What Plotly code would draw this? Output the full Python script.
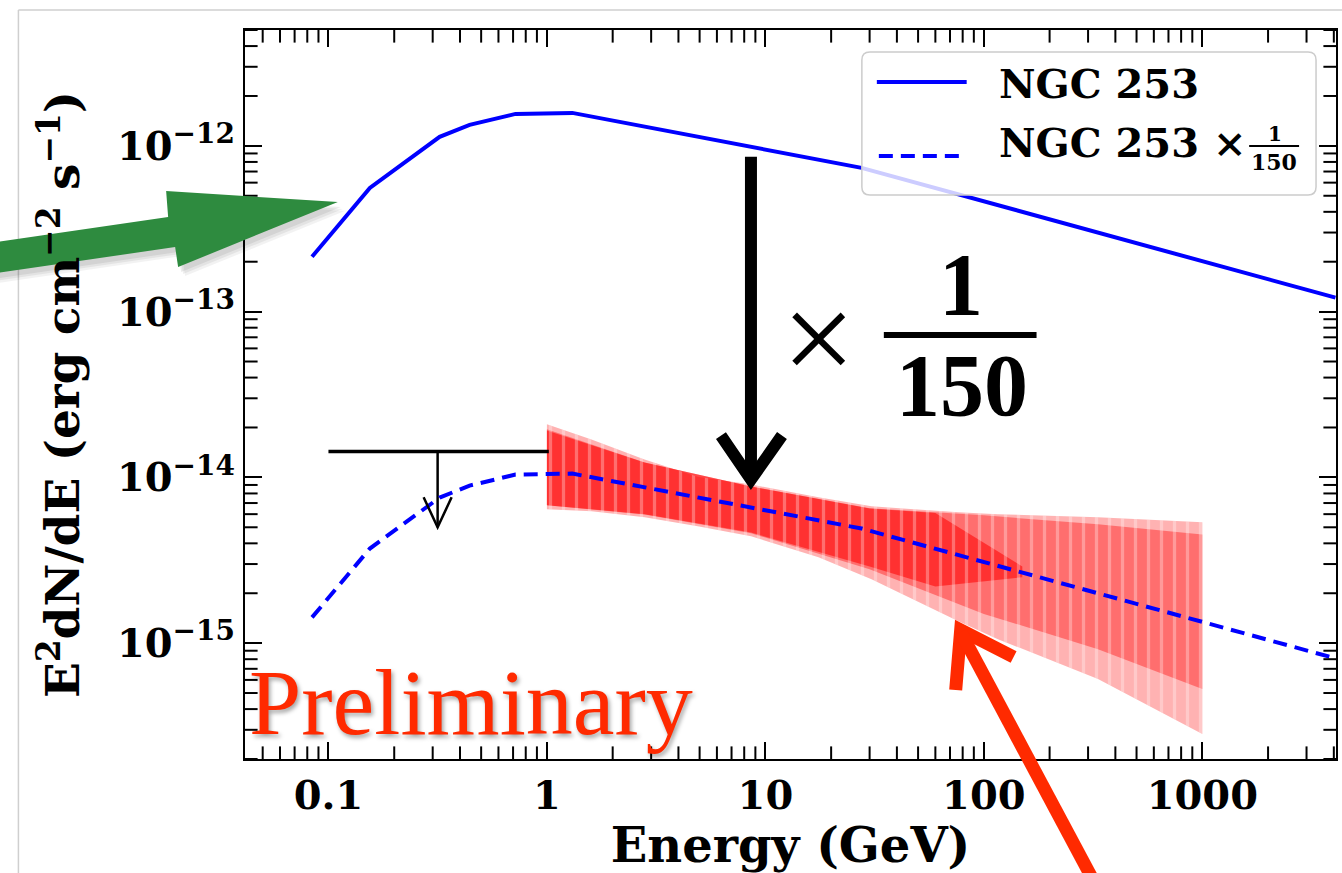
import plotly.graph_objects as go

# ---------------- data ----------------
sed_energy = [0.0841, 0.1547, 0.3229, 0.4427, 0.7182, 1.307, 27.57, 333.2, 4070]
sed_flux = [2.145e-13, 5.58e-13, 1.133e-12, 1.338e-12, 1.559e-12, 1.581e-12,
            7.37e-13, 2.99e-13, 1.214e-13]
scale_factor = 1.0 / 150.0

# butterfly (outer extent)
band_energy = [1.0, 1.6, 2.8, 4.9, 8.6, 17.5, 30.6, 76.5, 116.0, 333.0, 1000.0]
band_upper = [2.09e-14, 1.69e-14, 1.28e-14, 1.01e-14, 9.07e-15, 7.58e-15,
              6.69e-15, 6.15e-15, 6.0e-15, 5.74e-15, 5.36e-15]
band_lower = [6.42e-15, 6.24e-15, 5.74e-15, 5.07e-15, 4.41e-15, 3.30e-15,
              2.43e-15, 1.357e-15, 1.057e-15, 6.07e-16, 2.83e-16]
# denser inner part of the butterfly
inner_energy = [1.0, 2.8, 8.6, 30.0, 100.0, 333.0, 1000.0]
inner_upper = [1.95e-14, 1.23e-14, 8.82e-15, 6.51e-15, 5.90e-15, 5.21e-15, 4.53e-15]
inner_lower = [6.78e-15, 5.98e-15, 4.60e-15, 2.79e-15, 1.50e-15, 9.2e-16, 5.28e-16]
# most saturated core (low energies)
core_energy = [1.0, 2.8, 8.6, 30.0, 60.0, 150.0]
core_upper = [1.92e-14, 1.23e-14, 8.8e-15, 6.5e-15, 6.1e-15, 2.9e-15]
core_lower = [6.8e-15, 6.0e-15, 4.65e-15, 2.9e-15, 2.2e-15, 2.5e-15]

# upper limit
ul_energy = [0.1, 1.02]
ul_flux = 1.434e-14
ul_arrow_energy = 0.316
ul_arrow_tip = 5.0e-15

# scaling arrow
scale_arrow_energy = 8.59
scale_arrow_top = 8.6e-13
scale_arrow_tip = 9.7e-15

x_tickvals = [0.1, 1, 10, 100, 1000]
x_ticktext = ["0.1", "1", "10", "100", "1000"]
y_tickvals = [1e-15, 1e-14, 1e-13, 1e-12]
y_ticktext = ["10<sup>−15</sup>", "10<sup>−14</sup>", "10<sup>−13</sup>", "10<sup>−12</sup>"]
x_range = [-1.382, 3.612]
y_range = [-15.699, -11.301]
x_minor = [k * 10.0 ** d for d in range(-2, 4) for k in range(2, 10)
           if 10 ** x_range[0] < k * 10.0 ** d < 10 ** x_range[1]]
y_minor = [k * 10.0 ** d for d in range(-16, -11) for k in range(2, 10)
           if 10 ** y_range[0] < k * 10.0 ** d < 10 ** y_range[1]]

# ---------------- geometry ----------------
W, H = 1342, 873
L, R, T, B = 245, 1338, 30, 759


def PX(x):
    return (x - L) / (R - L)


def PY(y):
    return (B - y) / (B - T)


def ppath(points, close=False):
    s = "M " + " L ".join(f"{PX(x):.5f},{PY(y):.5f}" for x, y in points)
    return s + (" Z" if close else "")


SERIF = "DejaVu Serif"
BLUE = "#0000ff"
RED_TXT = "#ff2a00"

fig = go.Figure()


def band(e, up, lo, color, pattern=None):
    kw = dict(x=list(e) + list(e)[::-1], y=list(up) + list(lo)[::-1],
              mode="lines", fill="toself", fillcolor=color,
              line=dict(width=0), hoverinfo="skip", showlegend=False)
    if pattern:
        kw["fillpattern"] = pattern
    fig.add_trace(go.Scatter(**kw))


band(band_energy, band_upper, band_lower, "rgba(255,0,0,0.30)")
band(inner_energy, inner_upper, inner_lower, "rgba(255,0,0,0.38)")
band(core_energy, core_upper, core_lower, "rgba(255,0,0,0.55)")
band(band_energy, band_upper, band_lower, "rgba(0,0,0,0)",
     pattern=dict(shape="|", size=13, solidity=0.25,
                  fgcolor="rgba(255,255,255,0.6)", fillmode="overlay"))

# upper limit bar + arrow shaft
fig.add_trace(go.Scatter(x=ul_energy, y=[ul_flux, ul_flux], mode="lines",
                         line=dict(color="black", width=3.5),
                         hoverinfo="skip", showlegend=False))
fig.add_trace(go.Scatter(x=[ul_arrow_energy, ul_arrow_energy], y=[ul_flux, ul_arrow_tip],
                         mode="lines", line=dict(color="black", width=2.5),
                         hoverinfo="skip", showlegend=False))

# curves
fig.add_trace(go.Scatter(x=sed_energy, y=[f * scale_factor for f in sed_flux],
                         mode="lines", name="NGC 253 × 1/150",
                         line=dict(color=BLUE, width=4, dash="14px,8px"),
                         showlegend=False))
fig.add_trace(go.Scatter(x=sed_energy, y=sed_flux, mode="lines", name="NGC 253",
                         line=dict(color=BLUE, width=4), showlegend=False))

# big scaling arrow shaft
fig.add_trace(go.Scatter(x=[scale_arrow_energy, scale_arrow_energy],
                         y=[scale_arrow_top, scale_arrow_tip], mode="lines",
                         line=dict(color="black", width=12),
                         hoverinfo="skip", showlegend=False))

# minor ticks: line markers centred on the frame, outer half clipped by the plot area
tick_marker = dict(size=18, color="black", line=dict(color="black", width=2))
for yv in [10 ** y_range[0], 10 ** y_range[1]]:
    fig.add_trace(go.Scatter(x=x_minor, y=[yv] * len(x_minor), mode="markers",
                             marker=dict(symbol="line-ns", **tick_marker),
                             cliponaxis=True, hoverinfo="skip", showlegend=False))
for xv in [10 ** x_range[0], 10 ** x_range[1]]:
    fig.add_trace(go.Scatter(x=[xv] * len(y_minor), y=y_minor, mode="markers",
                             marker=dict(symbol="line-ew", **tick_marker),
                             cliponaxis=True, hoverinfo="skip", showlegend=False))

shapes = []
# slide border
shapes.append(dict(type="line", xref="paper", yref="paper", x0=PX(18), y0=PY(10),
                   x1=PX(1360), y1=PY(10), line=dict(color="#cfcfcf", width=1.5), layer="below"))
shapes.append(dict(type="line", xref="paper", yref="paper", x0=PX(18), y0=PY(10),
                   x1=PX(18), y1=PY(900), line=dict(color="#cfcfcf", width=1.5), layer="below"))

# arrow heads (pixel sized, anchored at data points)
shapes.append(dict(type="path", xref="x", yref="y", xsizemode="pixel", ysizemode="pixel",
                   xanchor=scale_arrow_energy, yanchor=scale_arrow_tip,
                   path="M -30,44 L 0,0 L 31,44", line=dict(color="black", width=12), layer="above"))
shapes.append(dict(type="path", xref="x", yref="y", xsizemode="pixel", ysizemode="pixel",
                   xanchor=ul_arrow_energy, yanchor=ul_arrow_tip,
                   path="M -14,30 L 0,0 L 14,30", line=dict(color="black", width=2.5), layer="above"))

# green arrow (slide annotation) with soft shadow
green_pts = [(338, 202), (166, 191), (168, 217), (-10, 243), (-10, 274),
             (175, 247), (178, 267)]
for dx, dy, a in [(7, 9, 0.05), (5, 7, 0.06), (3, 5, 0.07)]:
    shapes.append(dict(type="path", xref="paper", yref="paper",
                       path=ppath([(x + dx, y + dy) for x, y in green_pts], True),
                       fillcolor=f"rgba(0,0,0,{a})", line=dict(width=0), layer="above"))
shapes.append(dict(type="path", xref="paper", yref="paper", path=ppath(green_pts, True),
                   fillcolor="#2e8b3f", line=dict(width=0), layer="above"))

# red arrow (slide annotation)
shapes.append(dict(type="path", xref="paper", yref="paper",
                   path=ppath([(957, 690), (962, 630), (1015, 657)]),
                   line=dict(color=RED_TXT, width=13), layer="above"))
shapes.append(dict(type="line", xref="paper", yref="paper",
                   x0=PX(962), y0=PY(632), x1=PX(1108), y1=PY(905),
                   line=dict(color=RED_TXT, width=13), layer="above"))

# big fraction bar
shapes.append(dict(type="line", xref="paper", yref="paper", x0=PX(885), y0=PY(335),
                   x1=PX(1038), y1=PY(335), line=dict(color="black", width=6), layer="above"))

# legend box (rounded)
lx0, lx1, ly0, ly1, rr = 863, 1318, 52, 195, 8
rx, ry = rr / (R - L), rr / (B - T)
X0, X1, Y0, Y1 = PX(lx0), PX(lx1), PY(ly0), PY(ly1)
leg_path = (f"M {X0+rx},{Y0} L {X1-rx},{Y0} Q {X1},{Y0} {X1},{Y0-ry} "
            f"L {X1},{Y1+ry} Q {X1},{Y1} {X1-rx},{Y1} L {X0+rx},{Y1} "
            f"Q {X0},{Y1} {X0},{Y1+ry} L {X0},{Y0-ry} Q {X0},{Y0} {X0+rx},{Y0} Z")
shapes.append(dict(type="path", xref="paper", yref="paper", path=leg_path,
                   fillcolor="rgba(255,255,255,0.8)", line=dict(color="#cccccc", width=1.5),
                   layer="above"))
shapes.append(dict(type="line", xref="paper", yref="paper", x0=PX(878), y0=PY(82),
                   x1=PX(968), y1=PY(82), line=dict(color=BLUE, width=4), layer="above"))
shapes.append(dict(type="line", xref="paper", yref="paper", x0=PX(880), y0=PY(156),
                   x1=PX(966), y1=PY(156), line=dict(color=BLUE, width=4, dash="14px,8px"),
                   layer="above"))
shapes.append(dict(type="line", xref="paper", yref="paper", x0=PX(1251), y0=PY(146),
                   x1=PX(1301), y1=PY(146), line=dict(color="black", width=2), layer="above"))

annotations = []


def text(x, y, s, size, family=SERIF, weight="bold", color="black", xanchor="center",
         yanchor="middle", shadow=None):
    f = dict(family=family, size=size, color=color, weight=weight)
    if shadow:
        f["shadow"] = shadow
    annotations.append(dict(xref="paper", yref="paper", x=PX(x), y=PY(y), text=s,
                            showarrow=False, font=f, xanchor=xanchor, yanchor=yanchor))


text(998, 83, "NGC 253", 40, xanchor="left")
text(998, 142, "NGC 253 ×", 40, xanchor="left")
text(1277, 134, "1", 20)
text(1276, 162, "150", 22)

text(820, 338, "×", 130, family="Liberation Serif", weight="normal")
text(962, 284, "1", 88, family="Liberation Serif")
text(963, 385, "150", 88, family="Liberation Serif")

text(247, 756, "Preliminary", 94, family="Liberation Serif", weight="normal",
     color=RED_TXT, xanchor="left", yanchor="bottom",
     shadow="2px 3px 4px rgba(0,0,0,0.35)")

tickfont = dict(family=SERIF, size=40, color="black", weight="bold")
axis_common = dict(type="log", showline=True, linecolor="black", linewidth=2,
                   mirror="allticks", ticks="inside", ticklen=17, tickwidth=2,
                   tickcolor="black", showgrid=False, zeroline=False, tickfont=tickfont)

fig.update_layout(
    width=W, height=H,
    margin=dict(l=L, r=W - R, t=T, b=H - B, pad=0),
    paper_bgcolor="white", plot_bgcolor="white",
    showlegend=False,
    xaxis=dict(range=x_range, tickmode="array", tickvals=x_tickvals,
               ticktext=x_ticktext,
               title=dict(text="Energy (GeV)", standoff=14,
                          font=dict(family=SERIF, size=48, color="black", weight="bold")),
               **axis_common),
    yaxis=dict(range=y_range, tickmode="array", tickvals=y_tickvals,
               ticktext=y_ticktext,
               title=dict(text="E<sup>2</sup>dN/dE (erg cm<sup>−2</sup> s<sup>−1</sup>)",
                          standoff=22,
                          font=dict(family=SERIF, size=47, color="black", weight="bold")),
               **axis_common),
    shapes=shapes,
    annotations=annotations,
)

fig.write_html("out.html")
